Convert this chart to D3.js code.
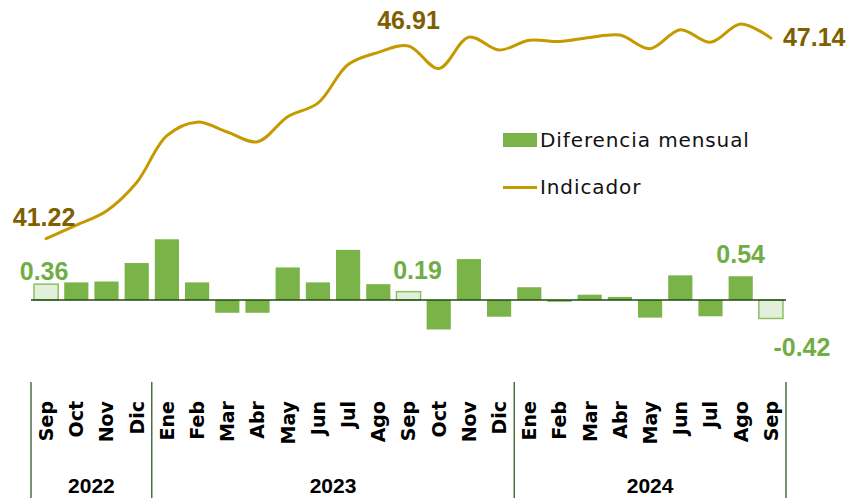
<!DOCTYPE html>
<html>
<head>
<meta charset="utf-8">
<script src="https://cdn.jsdelivr.net/npm/d3@7"></script>
<style>
  html, body { margin: 0; padding: 0; background: #fff; }
  svg { display: block; }
</style>
</head>
<body>
<svg id="chart" width="863" height="498"></svg>
<script>
// months Sep 2022 .. Sep 2024
const months = ["Sep", "Oct", "Nov", "Dic",
    "Ene", "Feb", "Mar", "Abr", "May", "Jun", "Jul", "Ago", "Sep", "Oct", "Nov", "Dic",
    "Ene", "Feb", "Mar", "Abr", "May", "Jun", "Jul", "Ago", "Sep"];
const years = ["2022", "2023", "2024"];
const yearCounts = [4, 12, 9];

const diferencia = [0.36, 0.40, 0.42, 0.84, 1.38, 0.40, -0.29, -0.29, 0.74, 0.40, 1.14, 0.36,
    0.19, -0.67, 0.93, -0.38, 0.29, -0.04, 0.12, 0.07, -0.40, 0.56, -0.37, 0.54, -0.42];
const indicador = [41.22, 41.62, 42.04, 42.88, 44.26, 44.66, 44.37, 44.08, 44.82, 45.22, 46.36, 46.72,
    46.91, 46.24, 47.17, 46.79, 47.08, 47.04, 47.16, 47.23, 46.83, 47.39, 47.02, 47.56, 47.14];

// highlighted months (light bars)
const highlighted = [0, 12, 24];

const barColor = "#7ab347";
const lightFill = "#e2efda";
const lightStroke = "#8cc063";
const lineColor = "#c49a00";
const lineLabel = "#7f6000";
const barLabel = "#70ad47";
const axisColor = "#1f4a12";

const svg = d3.select("#chart");
const idx = d3.range(months.length);

const x = d3.scaleBand()
    .domain(idx)
    .range([31, 786])
    .paddingInner(0.2)
    .paddingOuter(0.1);
const xc = i => x(i) + x.bandwidth() / 2;
const step = x.step();
const edgeX = k => x.range()[0] + k * step;

const yBar = d3.scaleLinear().domain([-1, 1.5]).range([344, 234]);
const yLine = d3.scaleLinear().domain([40, 48]).range([280, 9]);

// bars
svg.selectAll(".bar")
    .data(idx)
    .join("rect")
    .attr("class", "bar")
    .attr("x", i => x(i))
    .attr("width", x.bandwidth())
    .attr("y", i => yBar(Math.max(0, diferencia[i])))
    .attr("height", i => Math.abs(yBar(diferencia[i]) - yBar(0)))
    .attr("fill", i => highlighted.includes(i) ? lightFill : barColor)
    .attr("stroke", i => highlighted.includes(i) ? lightStroke : "none")
    .attr("stroke-width", 1.5);

// zero line
svg.append("line")
    .attr("x1", x.range()[0]).attr("x2", x.range()[1])
    .attr("y1", yBar(0)).attr("y2", yBar(0))
    .attr("stroke", axisColor)
    .attr("stroke-width", 1.5);

// indicator line
const line = d3.line()
    .x((d, i) => xc(i))
    .y(d => yLine(d))
    .curve(d3.curveCatmullRom.alpha(0.5));

svg.append("path")
    .datum(indicador)
    .attr("d", line)
    .attr("fill", "none")
    .attr("stroke", lineColor)
    .attr("stroke-width", 3)
    .attr("stroke-linecap", "round");

// data labels
const numFont = "'Liberation Sans', Arial, sans-serif";
const lineLabels = [
    { i: 0, dx: -2, dy: -13, anchor: "middle" },
    { i: 12, dx: 0, dy: -17, anchor: "middle" },
    { i: 24, dx: 12, dy: 8, anchor: "start" }
];
svg.selectAll(".lineLabel")
    .data(lineLabels)
    .join("text")
    .attr("class", "lineLabel")
    .attr("x", d => xc(d.i) + d.dx)
    .attr("y", d => yLine(indicador[d.i]) + d.dy)
    .attr("text-anchor", d => d.anchor)
    .attr("font-family", numFont)
    .attr("font-weight", "bold")
    .attr("font-size", 25)
    .attr("fill", lineLabel)
    .text(d => indicador[d.i].toFixed(2));

const barLabels = [
    { i: 0, dx: -2, dy: -4 },
    { i: 12, dx: 9, dy: -13 },
    { i: 23, dx: 0, dy: -13 },
    { i: 24, dx: 31, dy: 38 }
];
svg.selectAll(".barLabel")
    .data(barLabels)
    .join("text")
    .attr("class", "barLabel")
    .attr("x", d => xc(d.i) + d.dx)
    .attr("y", d => yBar(diferencia[d.i]) + d.dy)
    .attr("text-anchor", "middle")
    .attr("font-family", numFont)
    .attr("font-weight", "bold")
    .attr("font-size", 25)
    .attr("fill", barLabel)
    .text(d => diferencia[d.i].toFixed(2));

// month labels, rotated
svg.selectAll(".month")
    .data(idx)
    .join("text")
    .attr("class", "month")
    .attr("transform", i => `translate(${xc(i)},401) rotate(-90)`)
    .attr("dy", "0.36em")
    .attr("text-anchor", "end")
    .attr("font-family", "'DejaVu Sans', sans-serif")
    .attr("font-weight", "bold")
    .attr("font-size", 19)
    .attr("fill", "#000")
    .text(i => months[i]);

// year groups
const starts = yearCounts.map((c, k) => d3.sum(yearCounts.slice(0, k)));
const edges = starts.concat([months.length]);
svg.selectAll(".sep")
    .data(edges)
    .join("line")
    .attr("class", "sep")
    .attr("x1", k => edgeX(k))
    .attr("x2", k => edgeX(k))
    .attr("y1", 382)
    .attr("y2", 498)
    .attr("stroke", axisColor)
    .attr("stroke-width", 1.2);

svg.selectAll(".year")
    .data(years)
    .join("text")
    .attr("class", "year")
    .attr("x", (d, k) => (edgeX(starts[k]) + edgeX(starts[k] + yearCounts[k])) / 2)
    .attr("y", 493)
    .attr("text-anchor", "middle")
    .attr("font-family", numFont)
    .attr("font-weight", "bold")
    .attr("font-size", 21)
    .attr("fill", "#000")
    .text(d => d);

// legend
const legend = svg.append("g").attr("transform", "translate(503,0)");
legend.append("rect")
    .attr("x", 0).attr("y", 133)
    .attr("width", 34).attr("height", 14)
    .attr("fill", barColor);
legend.append("text")
    .attr("x", 37).attr("y", 147)
    .attr("font-family", "'DejaVu Sans', sans-serif")
    .attr("font-size", 20)
    .attr("letter-spacing", 0.9)
    .attr("fill", "#111")
    .text("Diferencia mensual");
legend.append("line")
    .attr("x1", 0).attr("x2", 34)
    .attr("y1", 187.5).attr("y2", 187.5)
    .attr("stroke", lineColor)
    .attr("stroke-width", 3);
legend.append("text")
    .attr("x", 37).attr("y", 194)
    .attr("font-family", "'DejaVu Sans', sans-serif")
    .attr("font-size", 20)
    .attr("letter-spacing", 0.9)
    .attr("fill", "#111")
    .text("Indicador");
</script>
</body>
</html>
